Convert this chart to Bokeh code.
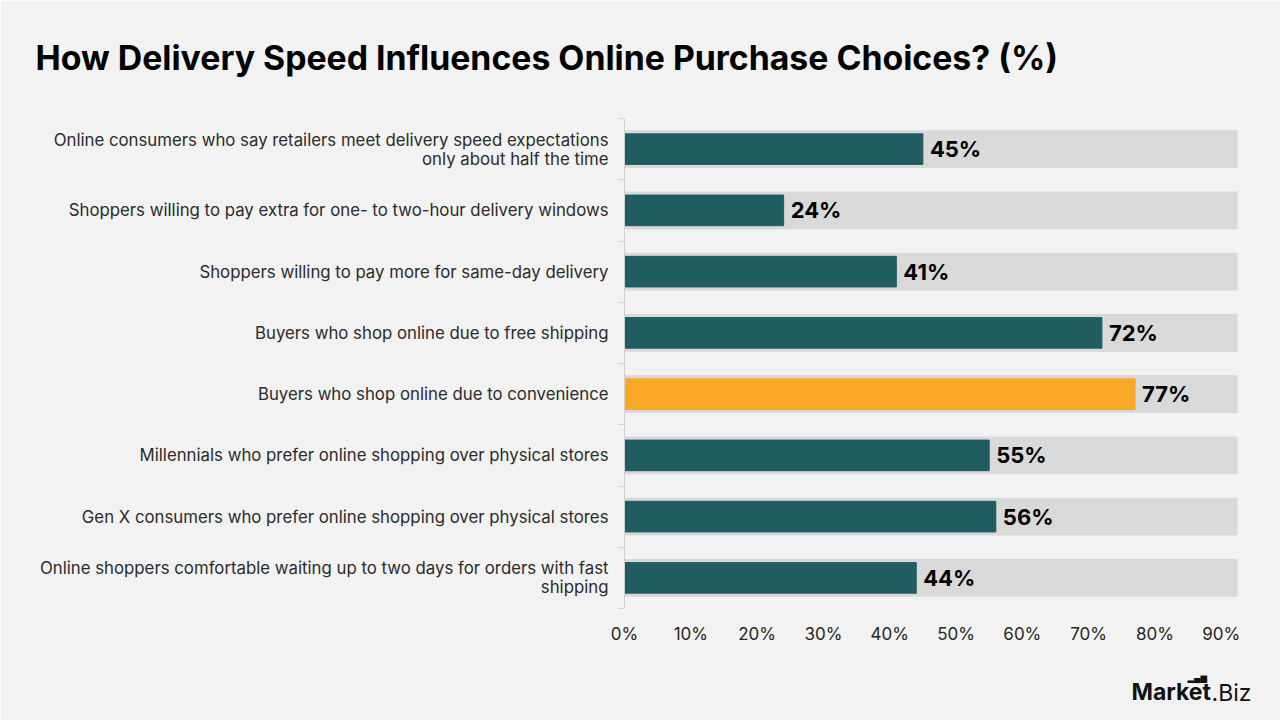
from bokeh.plotting import figure
from bokeh.models import FixedTicker, Label, Range1d, ColumnDataSource
from bokeh.core.properties import value
from bokeh.embed import file_html
from bokeh.resources import INLINE

categories = [
    "Online consumers who say retailers meet delivery speed expectations\nonly about half the time",
    "Shoppers willing to pay extra for one- to two-hour delivery windows",
    "Shoppers willing to pay more for same-day delivery",
    "Buyers who shop online due to free shipping",
    "Buyers who shop online due to convenience",
    "Millennials who prefer online shopping over physical stores",
    "Gen X consumers who prefer online shopping over physical stores",
    "Online shoppers comfortable waiting up to two days for orders with fast\nshipping",
]
values = [45, 24, 41, 72, 77, 55, 56, 44]
highlight = "Buyers who shop online due to convenience"
x_ticks = [0, 10, 20, 30, 40, 50, 60, 70, 80, 90]
x_max = 92.45

FONT = "Inter"
BG = "#f2f2f2"
TEAL = "#1f5d62"
ORANGE = "#f9a727"
TRACK = "#d9d9d9"

FL, FR, FT, FB = 624, 1237, 118, 608

n = len(categories)
ys = list(range(n))
colors = [ORANGE if c == highlight else TEAL for c in categories]
src = ColumnDataSource(dict(
    y=ys, v=values, track=[x_max] * n, color=colors,
    label=[f"{v}%" for v in values],
))

p = figure(width=1280, height=720, output_backend="svg", toolbar_location=None,
           x_range=Range1d(0, x_max), y_range=Range1d(n - 0.5, -0.5),
           min_border_left=FL, min_border_right=1280 - FR, min_border_top=FT,
           min_border_bottom=720 - FB, background_fill_color=BG, border_fill_color=BG,
           outline_line_color=None)

p.hbar(y="y", left=0, right="track", height=0.6, color=TRACK, source=src)
p.hbar(y="y", left=0, right="v", height=0.5, color="color", source=src)
p.text(x="v", y="y", text="label", source=src, x_offset=7,
       text_font=value(FONT), text_font_size="22px", text_font_style="bold",
       text_color="#000000", text_baseline="middle", text_align="left")

p.grid.visible = False

yax = p.yaxis[0]
yax.ticker = FixedTicker(ticks=ys, minor_ticks=[i - 0.5 for i in range(n + 1)])
yax.major_label_overrides = {i: c for i, c in enumerate(categories)}
yax.major_tick_line_color = None
yax.minor_tick_line_color = "#d0d0d0"
yax.minor_tick_out = 6
yax.minor_tick_in = 0
yax.axis_line_color = "#d0d0d0"
yax.major_label_text_font = FONT
yax.major_label_text_font_size = "16.8px"
yax.major_label_text_color = "#2b2b2b"
yax.major_label_text_line_height = 0.95
yax.major_label_standoff = 10

xax = p.xaxis[0]
xax.ticker = FixedTicker(ticks=x_ticks)
xax.major_label_overrides = {t: f"{t}%" for t in x_ticks}
xax.axis_line_color = None
xax.major_tick_line_color = None
xax.minor_tick_line_color = None
xax.major_label_text_font = FONT
xax.major_label_text_font_size = "17px"
xax.major_label_text_color = "#262626"
xax.major_label_standoff = 9

title = Label(x=35 - FL, y=61, x_units="screen", y_units="screen",
              text="How Delivery Speed Influences Online Purchase Choices? (%)",
              text_font=FONT, text_font_size="33.8px", text_font_style="bold",
              text_color="#000000", text_baseline="alphabetic")
p.add_layout(title, "above")

icon = Label(x=1187 - FL, y=-600, x_units="screen", y_units="screen",
             text="\u2582\u2584\u2586", text_font="DejaVu Sans", text_font_size="8.5px",
             text_color="#111111", text_baseline="alphabetic")
p.add_layout(icon, "above")

logo1 = Label(x=1131 - FL, y=-17.6, x_units="screen", y_units="screen",
              text="Market", text_font=FONT, text_font_size="23px",
              text_font_style="bold", text_color="#111111", text_baseline="alphabetic")
logo2 = Label(x=1211 - FL, y=9.8, x_units="screen", y_units="screen",
              text=".Biz", text_font=FONT, text_font_size="23px",
              text_color="#111111", text_baseline="alphabetic")
p.add_layout(logo1, "below")
p.add_layout(logo2, "below")

out = file_html(p, INLINE)
open("out.html", "w").write(out)
